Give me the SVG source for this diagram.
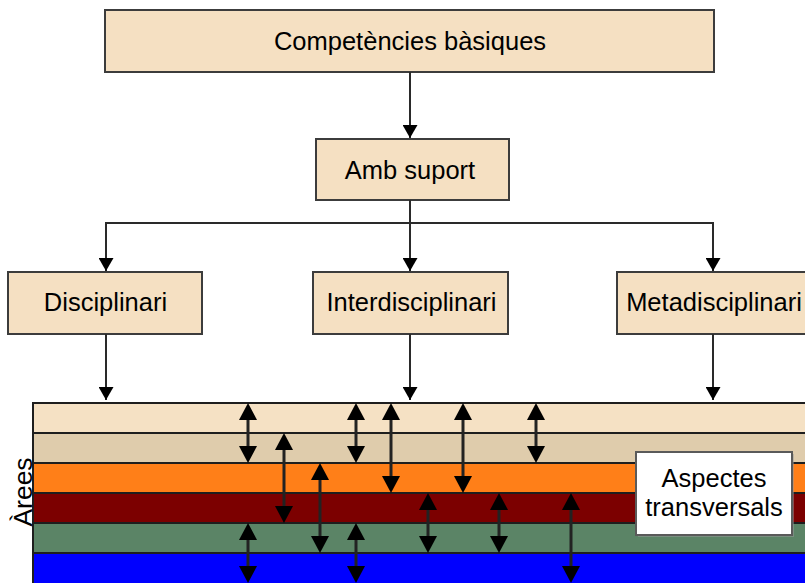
<svg xmlns="http://www.w3.org/2000/svg" width="805" height="583" viewBox="0 0 805 583">
<defs>
<style>
.box{fill:#F5E0C2;stroke:#3c3c3c;stroke-width:2}
.lbl{font-family:"Liberation Sans",Arial,sans-serif;font-size:25.5px;fill:#000;text-anchor:middle}
.conn{stroke:#2a2a2a;stroke-width:2;fill:none}
.dbl{stroke:#222;stroke-width:3;fill:none}
.band{stroke:#1e1e1e;stroke-width:2}
</style>
<marker id="ah" viewBox="0 0 13 15" refX="13" refY="7.5" markerWidth="13" markerHeight="15" markerUnits="userSpaceOnUse" orient="auto">
<path d="M0,0 L13,7.5 L0,15 z" fill="#000"/>
</marker>
<marker id="dh" viewBox="0 0 17 18" refX="9" refY="9" markerWidth="17" markerHeight="18" markerUnits="userSpaceOnUse" orient="auto-start-reverse">
<path d="M0,0 L17,9 L0,18 z" fill="#000"/>
</marker>
</defs>
<rect width="805" height="583" fill="#fff"/>

<g id="bands">
<rect class="band" x="33" y="403" width="790" height="30" fill="#F5E1C4"/>
<rect class="band" x="33" y="433" width="790" height="30" fill="#DFCCAC"/>
<rect class="band" x="33" y="463" width="790" height="30" fill="#FF7F18"/>
<rect class="band" x="33" y="493" width="790" height="30" fill="#7C0000"/>
<rect class="band" x="33" y="523" width="790" height="30" fill="#5B8466"/>
<rect class="band" x="33" y="553" width="790" height="32" fill="#0000FF"/>
</g>

<g id="arees">
<text class="lbl" style="font-size:26.5px" x="32" y="492" transform="rotate(-90 32 492)">Àrees</text>
</g>

<g id="node-competencies">
<rect class="box" x="105" y="10" width="609" height="62"/>
<text class="lbl" x="410" y="50">Competències bàsiques</text>
</g>
<g id="node-amb-suport">
<rect class="box" x="316" y="139" width="193" height="61"/>
<text class="lbl" x="410" y="179">Amb suport</text>
</g>
<g id="node-disciplinari">
<rect class="box" x="8" y="272" width="194" height="62"/>
<text class="lbl" x="105.5" y="311">Disciplinari</text>
</g>
<g id="node-interdisciplinari">
<rect class="box" x="313" y="272" width="195" height="62"/>
<text class="lbl" x="411.5" y="311">Interdisciplinari</text>
</g>
<g id="node-metadisciplinari">
<rect class="box" x="617" y="272" width="195" height="62"/>
<text class="lbl" x="714" y="311">Metadisciplinari</text>
</g>

<g id="connectors">
<line class="conn" x1="410" y1="72" x2="410" y2="138" marker-end="url(#ah)"/>
<polyline class="conn" points="410,200 410,223"/>
<polyline class="conn" points="106,271 106,223 713,223 713,271" marker-end="url(#ah)"/>
<polyline class="conn" points="106,223 106,271" marker-end="url(#ah)"/>
<line class="conn" x1="410" y1="223" x2="410" y2="271" marker-end="url(#ah)"/>
<line class="conn" x1="106" y1="334" x2="106" y2="400" marker-end="url(#ah)"/>
<line class="conn" x1="410" y1="334" x2="410" y2="400" marker-end="url(#ah)"/>
<line class="conn" x1="713" y1="334" x2="713" y2="400" marker-end="url(#ah)"/>
</g>

<g id="area-links">
<line class="dbl" x1="248" y1="411" x2="248" y2="455" marker-start="url(#dh)" marker-end="url(#dh)"/>
<line class="dbl" x1="284" y1="441" x2="284" y2="515" marker-start="url(#dh)" marker-end="url(#dh)"/>
<line class="dbl" x1="248" y1="531" x2="248" y2="575" marker-start="url(#dh)" marker-end="url(#dh)"/>
<line class="dbl" x1="320" y1="471" x2="320" y2="545" marker-start="url(#dh)" marker-end="url(#dh)"/>
<line class="dbl" x1="356" y1="411" x2="356" y2="455" marker-start="url(#dh)" marker-end="url(#dh)"/>
<line class="dbl" x1="356" y1="531" x2="356" y2="575" marker-start="url(#dh)" marker-end="url(#dh)"/>
<line class="dbl" x1="391" y1="411" x2="391" y2="485" marker-start="url(#dh)" marker-end="url(#dh)"/>
<line class="dbl" x1="428" y1="501" x2="428" y2="545" marker-start="url(#dh)" marker-end="url(#dh)"/>
<line class="dbl" x1="463" y1="411" x2="463" y2="485" marker-start="url(#dh)" marker-end="url(#dh)"/>
<line class="dbl" x1="499" y1="501" x2="499" y2="545" marker-start="url(#dh)" marker-end="url(#dh)"/>
<line class="dbl" x1="536" y1="411" x2="536" y2="455" marker-start="url(#dh)" marker-end="url(#dh)"/>
<line class="dbl" x1="571" y1="501" x2="571" y2="575" marker-start="url(#dh)" marker-end="url(#dh)"/>
</g>

<g id="node-aspectes">
<rect x="638" y="454" width="156" height="83" fill="#999" opacity="0.5"/>
<rect x="636" y="452" width="156" height="83" fill="#fff" stroke="#5a5a5a" stroke-width="2"/>
<text class="lbl" style="font-size:25.5px" x="714" y="487">Aspectes</text>
<text class="lbl" style="font-size:25.5px" x="714" y="516">transversals</text>
</g>
</svg>
